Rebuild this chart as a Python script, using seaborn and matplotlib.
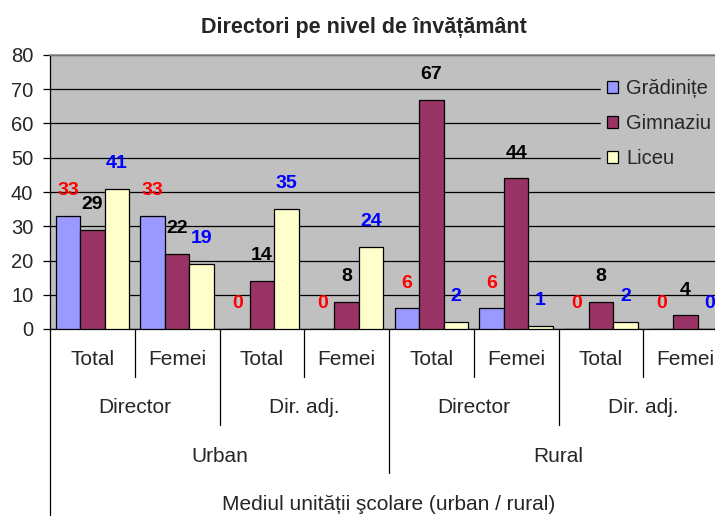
import itertools
import pandas as pd
import matplotlib
matplotlib.use('Agg')
import matplotlib.pyplot as plt
import seaborn as sns

# date
medii = ['Urban', 'Rural']
functii = ['Director', 'Dir. adj.']
categorii = ['Total', 'Femei']
niveluri = ['Grădinițe', 'Gimnaziu', 'Liceu']
gradinite = [33, 33, 0, 0, 6, 6, 0, 0]
gimnaziu = [29, 22, 14, 8, 67, 44, 8, 4]
liceu = [41, 19, 35, 24, 2, 1, 2, 0]

culori = ['#9999FF', '#993366', '#FFFFCC']
culori_etichete = ['#FF0000', '#000000', '#0000FF']

grupe = [' | '.join(t) for t in itertools.product(medii, functii, categorii)]
rows = []
for nivel, valori in zip(niveluri, [gradinite, gimnaziu, liceu]):
    for g, v in zip(grupe, valori):
        rows.append({'grupa': g, 'nivel': nivel, 'valoare': v})
df = pd.DataFrame(rows)

sns.set_style('white')
plt.rcParams['font.family'] = ['Liberation Sans', 'DejaVu Sans']

W, H = 715, 516
fig = plt.figure(figsize=(W / 100, H / 100), dpi=100)
ax = fig.add_axes([50 / W, 187 / H, 678 / W, 274 / H])
ax.set_facecolor('#C0C0C0')

sns.barplot(data=df, x='grupa', y='valoare', hue='nivel', order=grupe,
            hue_order=niveluri, palette=culori, width=0.865,
            edgecolor='black', linewidth=0.9, saturation=1,
            errorbar=None, ax=ax, zorder=3)

for cont, c in zip(ax.containers, culori_etichete):
    ax.bar_label(cont, color=c, fontsize=14, fontweight='bold', padding=12)

ax.set_xlim(-0.5, len(grupe) - 0.5)
ax.set_ylim(0, 80)
ax.set_yticks(range(0, 81, 10))
ax.tick_params(axis='y', labelsize=14.5, length=5, width=0.9, color='black',
               pad=7, left=True)
ax.set_xticks(range(len(grupe)))
ax.set_xticklabels([])
ax.tick_params(axis='x', length=0)
ax.set_xlabel('')
ax.set_ylabel('')
ax.yaxis.grid(True, color='black', linewidth=0.9)
ax.set_axisbelow(True)

for s in ['left', 'bottom']:
    ax.spines[s].set_color('black')
    ax.spines[s].set_linewidth(0.9)
ax.spines['right'].set_visible(False)
ax.spines['top'].set_color('#8C8C8C')
ax.spines['top'].set_linewidth(1.2)

# axa x pe mai multe niveluri
tr = ax.get_xaxis_transform()
n = len(grupe)
for i in range(n):
    ax.text(i, -0.113, categorii[i % 2], transform=tr, ha='center', va='center',
            fontsize=15)
for j in range(n // 2):
    ax.text(2 * j + 0.5, -0.288, functii[j % 2], transform=tr, ha='center',
            va='center', fontsize=15)
for k in range(n // 4):
    ax.text(4 * k + 1.5, -0.464, medii[k], transform=tr, ha='center',
            va='center', fontsize=15)
ax.text(3.5, -0.642, 'Mediul unității şcolare (urban / rural)', transform=tr,
        ha='center', va='center', fontsize=15)

for i in range(n - 1):
    b = i + 0.5
    if (i + 1) % 4 == 0:
        y0 = -0.526
    elif (i + 1) % 2 == 0:
        y0 = -0.35
    else:
        y0 = -0.175
    ax.plot([b, b], [0, y0], transform=tr, color='black', lw=0.9, clip_on=False)
ax.plot([-0.5, -0.5], [0, -0.69], transform=tr, color='black', lw=0.9,
        clip_on=False)

handles, labels = ax.get_legend_handles_labels()
ax.legend(handles, labels, loc='upper left', bbox_to_anchor=(601 / W, 1 - 73 / H),
          bbox_transform=fig.transFigure, frameon=True, facecolor='#C0C0C0',
          edgecolor='#C0C0C0', framealpha=1, fontsize=14.5, handlelength=0.55,
          handleheight=0.55, handletextpad=0.4, labelspacing=0.8,
          borderpad=0.3, borderaxespad=0, fancybox=False)

fig.text(364 / W, 1 - 27 / H, 'Directori pe nivel de învățământ',
         ha='center', va='center', fontsize=15.5, fontweight='bold')

fig.savefig('out.png', dpi=100)
